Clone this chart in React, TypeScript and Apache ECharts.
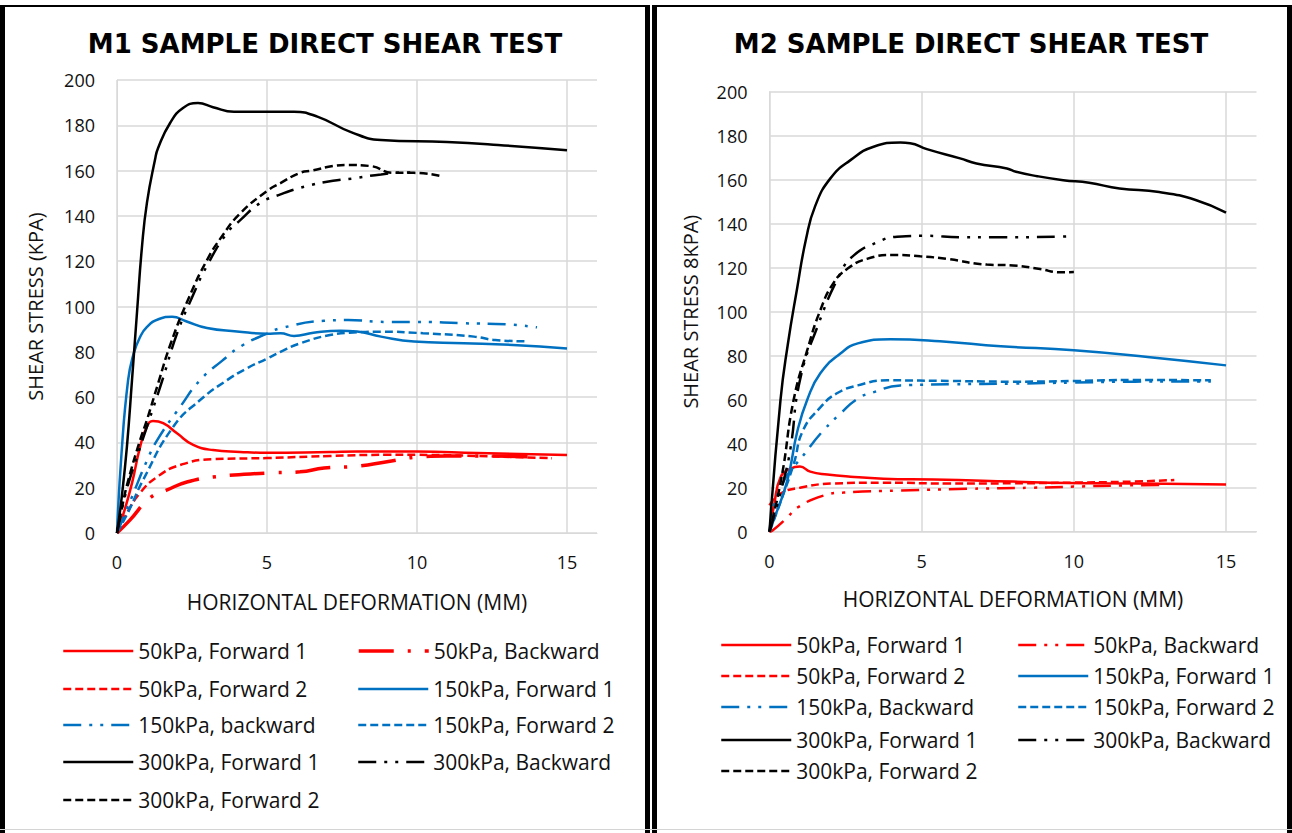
import React, { useEffect, useRef } from "react";
import * as echarts from "echarts";

type Pt = [number, number];

// ---------- M1 sample: horizontal deformation (mm) vs shear stress (kPa) ----------
const m1Fwd1_50: Pt[] = [[0, 0], [0.25, 10], [0.5, 22], [0.77, 38], [1.0, 47], [1.2, 49.5], [1.54, 48.5], [2.0, 44], [2.54, 38.9], [3.2, 36.6], [4.1, 35.8], [5, 35.4], [7.1, 35.8], [8, 36], [10, 36], [12, 35.3], [15, 34.4]];
const m1Back_50: Pt[] = [[0, 0], [0.43, 5.7], [1.1, 15.5], [1.67, 19], [2.33, 22.5], [3.2, 24.7], [5, 26.5], [6.1, 27], [6.9, 28.7], [8, 29.5], [9, 31.5], [10, 33.5], [11, 34], [12.5, 34], [14, 33.5]];
const m1Fwd2_50: Pt[] = [[0, 0], [0.33, 8.8], [0.77, 17.7], [1.33, 24.7], [2.1, 30], [3.2, 32.6], [5, 33.1], [7.1, 34], [9, 34.5], [10, 34.5], [12, 34], [14.5, 33]];
const m1Fwd1_150: Pt[] = [[0, 0], [0.15, 35], [0.37, 67.5], [0.55, 79], [0.75, 86], [1.0, 91], [1.4, 94.5], [1.84, 95.5], [2.3, 93.5], [3.0, 90.5], [4.0, 89], [5.0, 88], [5.45, 88.2], [5.9, 87], [6.55, 88.4], [7.45, 89.3], [8.0, 89], [8.8, 86.7], [9.9, 84.5], [11.56, 83.8], [13.2, 83], [15, 81.5]];
const m1Back_150: Pt[] = [[0, 0], [0.5, 16], [1.0, 32], [1.34, 41], [2.1, 55.6], [2.77, 67.5], [3.5, 76], [4.2, 83], [5.0, 88], [5.45, 90.4], [6.9, 93.7], [7.7, 94], [9.0, 93.2], [9.9, 93.2], [11.56, 92.6], [13, 92.1], [14, 90.8]];
const m1Fwd2_150: Pt[] = [[0, 0], [0.4, 10], [0.87, 23.4], [1.87, 46.8], [2.77, 58.7], [3.67, 67.5], [4.3, 72.5], [5, 77], [5.45, 80], [6.1, 83.7], [7.1, 87.4], [8.0, 88.6], [8.8, 88.9], [10.2, 88.2], [11.9, 86.7], [12.6, 85.2], [13.7, 84.6]];
const m1Fwd1_300: Pt[] = [[0, 0], [0.15, 15], [0.33, 38], [0.5, 67.5], [0.67, 98], [0.83, 126], [1.0, 146], [1.27, 165], [1.37, 170], [1.77, 181], [2.2, 187.6], [2.7, 189.8], [3.2, 188], [3.9, 186], [5, 186], [5.9, 186], [6.7, 183.7], [7.8, 177], [8.8, 173.5], [11, 172.6], [12.7, 171.3], [15, 169]];
const m1Back_300: Pt[] = [[0, 0], [0.3, 18], [0.7, 35], [1.0, 47], [1.5, 67], [2.0, 88], [2.5, 104], [3.0, 118], [3.67, 132.5], [4.1, 138], [4.78, 145.7], [5.45, 149.5], [6.28, 153], [7.2, 155.5], [7.9, 156.6], [8.8, 158.3], [9.7, 159.2], [10, 158.8]];
const m1Fwd2_300: Pt[] = [[0, 0], [0.17, 11.5], [0.37, 23], [0.77, 41], [1.0, 50], [1.37, 66], [1.8, 84], [2.4, 104], [3.0, 120.5], [3.5, 131], [4.1, 141], [5, 151], [5.45, 154.5], [6.1, 159], [6.5, 160], [7.2, 162], [7.7, 162.5], [8.45, 162], [9.2, 159], [9.9, 159], [10.8, 157.6]];

// ---------- M2 sample ----------
const m2Fwd1_50: Pt[] = [[0, 0], [0.15, 12], [0.36, 24.6], [0.69, 28.7], [1.0, 29.6], [1.34, 27.3], [1.9, 26], [2.66, 25], [3.74, 24.1], [5.4, 23.7], [7.0, 23.2], [9.2, 22.3], [11, 22], [13, 21.8], [15, 21.5]];
const m2Back_50: Pt[] = [[0, 0], [0.1, 0.5], [0.58, 6.4], [0.92, 11], [1.77, 16.4], [2.43, 17.8], [4.3, 18.7], [6.5, 19.5], [8.66, 20], [10, 20.5], [11.5, 21], [13, 21.3]];
const m2Fwd2_50: Pt[] = [[0, 12], [0.36, 17.3], [1.0, 20], [2.1, 21.9], [3.74, 22.3], [5.9, 21.9], [8, 22], [10, 22.3], [12, 22.8], [13.3, 23.5]];
const m2Fwd1_150: Pt[] = [[0, 0], [0.13, 5], [0.58, 23], [0.92, 46], [1.24, 60], [1.67, 72], [2.33, 81], [2.9, 85.6], [3.97, 87.5], [5.6, 86.6], [7.6, 84.3], [10, 82.5], [12.5, 79.3], [15, 75.6]];
const m2Back_150: Pt[] = [[0, 0], [0.36, 20], [1.24, 37], [1.77, 46], [2.33, 53.7], [2.9, 60.5], [3.4, 63.3], [4.3, 66.5], [6, 67], [8, 67.3], [10, 67.8], [12, 68.2], [14.5, 68.3]];
const m2Fwd2_150: Pt[] = [[0, 0], [0.4, 15], [0.8, 31], [1.1, 46], [1.67, 56.5], [2.2, 62.8], [2.9, 66.5], [3.87, 68.8], [6, 68.5], [8, 68.2], [10, 68.5], [12, 69], [14.5, 68.8]];
const m2Fwd1_300: Pt[] = [[0, 0], [0.36, 59.7], [0.6, 85], [0.9, 110], [1.2, 133], [1.5, 148], [2.0, 160.6], [2.66, 168.9], [3.42, 175], [4.3, 176.9], [4.62, 176.6], [5.17, 173.9], [6.26, 169.7], [6.8, 167.4], [7.8, 165.1], [8.1, 163.6], [8.8, 161.6], [9.65, 159.8], [10.5, 158.6], [11.5, 156], [12.8, 154.4], [14, 150.8], [15, 145]];
const m2Back_300: Pt[] = [[0, 0], [0.46, 23], [0.69, 38], [1.0, 68.8], [1.57, 93], [2.33, 117.5], [2.76, 125.5], [3.53, 131.5], [4.19, 134.1], [5.17, 134.5], [6.26, 133.8], [7.35, 133.8], [9.54, 134.1], [10, 134.4]];
const m2Fwd2_300: Pt[] = [[0, 0], [0.4, 25], [0.79, 59.7], [1.24, 82.5], [1.67, 100.7], [2.1, 113], [2.55, 119.4], [3.2, 124], [4.08, 125.8], [4.95, 125.2], [5.83, 124], [7.14, 121.4], [8.0, 121], [8.89, 119.4], [9.54, 117.9], [10, 118]];

// Axis ranges
const X_MIN = 0, X_MAX = 16, X_STEP = 5;
const Y_MIN = 0, Y_MAX = 200, Y_STEP = 20;

const RED = "#ff0000";
const BLUE = "#0070c0";
const BLACK = "#000000";
const DASHED = [8, 4];
const LONG_DASH_DOT_DOT = [18, 8, 3, 8, 3, 8];
const LONG_DASH_DOT = [35, 14, 3, 14];
const LINE_WIDTH = 2.5;

const TEXT_FONT = "'Open Sans', 'Noto Sans', sans-serif";
const TITLE_FONT = "'DejaVu Sans', sans-serif";

type SeriesSpec = { name: string; data: Pt[]; color: string; dash: any; width?: number };
type Slot = { name: string; col: number; row: number };

interface PanelSpec {
  title: string;
  yName: string;
  grid: { left: number; top: number; width: number; height: number };
  yNameGap: number;
  xNameGap: number;
  series: SeriesSpec[];
  slots: Slot[];
  colX: number[];
  rowY: number[];
}

const leftPanel: PanelSpec = {
  title: "M1 SAMPLE DIRECT SHEAR TEST",
  yName: "SHEAR STRESS (KPA)",
  grid: { left: 117, top: 80, width: 480, height: 453 },
  yNameGap: 72,
  xNameGap: 58,
  series: [
    { name: "50kPa, Forward 1", data: m1Fwd1_50, color: RED, dash: "solid" },
    { name: "50kPa, Backward", data: m1Back_50, color: RED, dash: LONG_DASH_DOT, width: 3.5 },
    { name: "50kPa, Forward 2", data: m1Fwd2_50, color: RED, dash: DASHED },
    { name: "150kPa, Forward 1", data: m1Fwd1_150, color: BLUE, dash: "solid" },
    { name: "150kPa, backward", data: m1Back_150, color: BLUE, dash: LONG_DASH_DOT_DOT },
    { name: "150kPa, Forward 2", data: m1Fwd2_150, color: BLUE, dash: DASHED },
    { name: "300kPa, Forward 1", data: m1Fwd1_300, color: BLACK, dash: "solid" },
    { name: "300kPa, Backward", data: m1Back_300, color: BLACK, dash: LONG_DASH_DOT_DOT },
    { name: "300kPa, Forward 2", data: m1Fwd2_300, color: BLACK, dash: DASHED },
  ],
  slots: [
    { name: "50kPa, Forward 1", col: 0, row: 0 },
    { name: "50kPa, Backward", col: 1, row: 0 },
    { name: "50kPa, Forward 2", col: 0, row: 1 },
    { name: "150kPa, Forward 1", col: 1, row: 1 },
    { name: "150kPa, backward", col: 0, row: 2 },
    { name: "150kPa, Forward 2", col: 1, row: 2 },
    { name: "300kPa, Forward 1", col: 0, row: 3 },
    { name: "300kPa, Backward", col: 1, row: 3 },
    { name: "300kPa, Forward 2", col: 0, row: 4 },
  ],
  colX: [62, 357],
  rowY: [651, 689, 725, 762, 800],
};

const rightPanel: PanelSpec = {
  title: "M2 SAMPLE DIRECT SHEAR TEST",
  yName: "SHEAR STRESS 8KPA)",
  grid: { left: 119.5, top: 91.7, width: 487, height: 440 },
  yNameGap: 69,
  xNameGap: 57,
  series: [
    { name: "50kPa, Forward 1", data: m2Fwd1_50, color: RED, dash: "solid" },
    { name: "50kPa, Backward", data: m2Back_50, color: RED, dash: LONG_DASH_DOT_DOT },
    { name: "50kPa, Forward 2", data: m2Fwd2_50, color: RED, dash: DASHED },
    { name: "150kPa, Forward 1", data: m2Fwd1_150, color: BLUE, dash: "solid" },
    { name: "150kPa, Backward", data: m2Back_150, color: BLUE, dash: LONG_DASH_DOT_DOT },
    { name: "150kPa, Forward 2", data: m2Fwd2_150, color: BLUE, dash: DASHED },
    { name: "300kPa, Forward 1", data: m2Fwd1_300, color: BLACK, dash: "solid" },
    { name: "300kPa, Backward", data: m2Back_300, color: BLACK, dash: LONG_DASH_DOT_DOT },
    { name: "300kPa, Forward 2", data: m2Fwd2_300, color: BLACK, dash: DASHED },
  ],
  slots: [
    { name: "50kPa, Forward 1", col: 0, row: 0 },
    { name: "50kPa, Backward", col: 1, row: 0 },
    { name: "50kPa, Forward 2", col: 0, row: 1 },
    { name: "150kPa, Forward 1", col: 1, row: 1 },
    { name: "150kPa, Backward", col: 0, row: 2 },
    { name: "150kPa, Forward 2", col: 1, row: 2 },
    { name: "300kPa, Forward 1", col: 0, row: 3 },
    { name: "300kPa, Backward", col: 1, row: 3 },
    { name: "300kPa, Forward 2", col: 0, row: 4 },
  ],
  colX: [70, 367],
  rowY: [645, 676, 707, 740, 771],
};

const GRID_COLOR = "#d9d9d9";
const LABEL_COLOR = "#111111";

function buildOption(p: PanelSpec): any {
  const widthOf = (name: string) => {
    const s = p.series.find((it) => it.name === name);
    return (s && s.width) || LINE_WIDTH;
  };
  return {
    animation: false,
    backgroundColor: "#ffffff",
    title: {
      text: p.title,
      left: "center",
      top: 31,
      padding: 0,
      textStyle: { fontFamily: TITLE_FONT, fontWeight: "bold", fontSize: 26, color: "#000" },
    },
    grid: { ...p.grid, containLabel: false },
    xAxis: {
      type: "value",
      min: X_MIN,
      max: X_MAX,
      interval: X_STEP,
      name: "HORIZONTAL DEFORMATION (MM)",
      nameLocation: "middle",
      nameGap: p.xNameGap,
      nameTextStyle: { fontFamily: TEXT_FONT, fontSize: 21, color: LABEL_COLOR },
      axisLine: { show: true, lineStyle: { color: GRID_COLOR, width: 1 } },
      axisTick: { show: false },
      axisLabel: { showMaxLabel: false, margin: 20, fontFamily: TEXT_FONT, fontSize: 18, color: LABEL_COLOR },
      splitLine: { show: true, showMaxLine: false, lineStyle: { color: GRID_COLOR, width: 1.5 } },
    },
    yAxis: {
      type: "value",
      min: Y_MIN,
      max: Y_MAX,
      interval: Y_STEP,
      name: p.yName,
      nameLocation: "middle",
      nameRotate: 90,
      nameGap: p.yNameGap,
      nameTextStyle: { fontFamily: TEXT_FONT, fontSize: 20, color: LABEL_COLOR },
      axisLine: { show: true, lineStyle: { color: GRID_COLOR, width: 1 } },
      axisTick: { show: false },
      axisLabel: { margin: 22, fontFamily: TEXT_FONT, fontSize: 18, color: LABEL_COLOR },
      splitLine: { show: true, lineStyle: { color: GRID_COLOR, width: 1.5 } },
    },
    legend: p.slots.map((s) => ({
      data: [s.name],
      left: p.colX[s.col],
      top: p.rowY[s.row] - 12,
      padding: 0,
      itemGap: 0,
      itemWidth: 70,
      itemHeight: 14,
      selectedMode: false,
      itemStyle: { opacity: 0 },
      lineStyle: { width: widthOf(s.name) },
      textStyle: { fontFamily: TEXT_FONT, fontSize: 21, color: "#111", lineHeight: 24 },
    })),
    series: p.series.map((s) => ({
      type: "line",
      name: s.name,
      data: s.data,
      symbol: "none",
      smooth: 0.5,
      lineStyle: { color: s.color, width: s.width ?? LINE_WIDTH, type: s.dash },
      itemStyle: { color: s.color },
    })),
  };
}

const borders: React.CSSProperties[] = [
  // left panel frame
  { left: 0, top: 5, width: 650, height: 2 },
  { left: 0, top: 5, width: 5, height: 828 },
  { left: 645, top: 5, width: 5, height: 828 },
  // right panel frame
  { left: 652, top: 5, width: 640, height: 2 },
  { left: 652, top: 5, width: 5, height: 828 },
  { left: 1287, top: 5, width: 5, height: 828 },
];

export default function App() {
  const leftRef = useRef<HTMLDivElement>(null);
  const rightRef = useRef<HTMLDivElement>(null);

  useEffect(() => {
    const charts: echarts.ECharts[] = [];
    if (leftRef.current) {
      const c = echarts.init(leftRef.current, undefined, { renderer: "svg" });
      c.setOption(buildOption(leftPanel));
      charts.push(c);
    }
    if (rightRef.current) {
      const c = echarts.init(rightRef.current, undefined, { renderer: "svg" });
      c.setOption(buildOption(rightPanel));
      charts.push(c);
    }
    return () => charts.forEach((c) => c.dispose());
  }, []);

  return (
    <div style={{ position: "fixed", left: 0, top: 0, width: 1292, height: 833, background: "#fff", overflow: "hidden" }}>
      <div ref={leftRef} style={{ position: "absolute", left: 0, top: 0, width: 650, height: 833 }} />
      <div ref={rightRef} style={{ position: "absolute", left: 650, top: 0, width: 642, height: 833 }} />
      {borders.map((b, i) => (
        <div key={i} style={{ position: "absolute", background: "#000", pointerEvents: "none", ...b }} />
      ))}
      <div style={{ position: "absolute", left: 0, top: 829, width: 1292, height: 1, background: "#d4d4d4" }} />
    </div>
  );
}
